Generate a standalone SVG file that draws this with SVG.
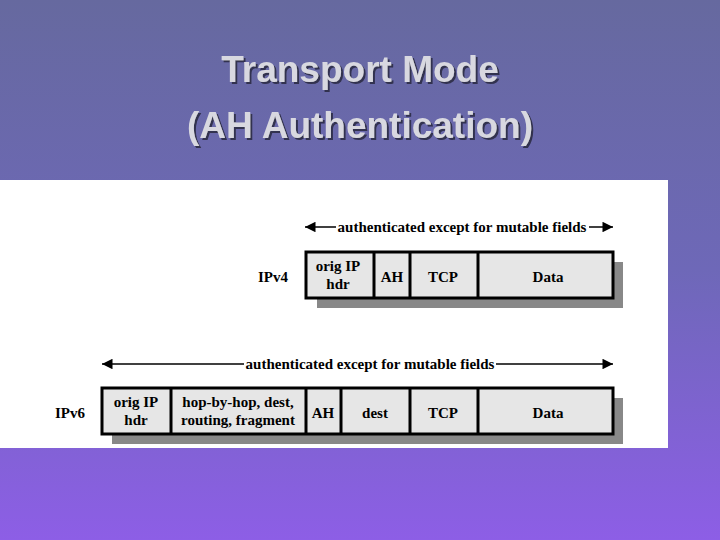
<svg xmlns="http://www.w3.org/2000/svg" width="720" height="540" viewBox="0 0 720 540">
<defs>
<linearGradient id="bg" x1="0" y1="0" x2="0" y2="1">
<stop offset="0" stop-color="#66699f"/><stop offset="0.5" stop-color="#6e68b8"/><stop offset="1" stop-color="#8d5ee6"/>
</linearGradient>
<filter id="ds" x="-5%" y="-20%" width="110%" height="140%"><feDropShadow dx="2" dy="2" stdDeviation="0.5" flood-color="#303050"/></filter>
<marker id="ah" viewBox="0 0 10 10" refX="10" refY="5" markerWidth="8" markerHeight="7" orient="auto-start-reverse"><path d="M0,0L10,5L0,10z" fill="#000"/></marker>
</defs>
<style>
.t{font-family:"Liberation Sans",Arial,sans-serif;font-size:37px;font-weight:bold;fill:#d8d8e0;text-anchor:middle;filter:url(#ds)}
.l{font-family:"Liberation Serif","Times New Roman",serif;font-size:15px;font-weight:bold;fill:#000;text-anchor:middle}
.box{fill:#e6e6e6;stroke:#000;stroke-width:3}
.sh{fill:#888}
.ln{stroke:#000;stroke-width:1.5}
.ls{marker-start:url(#ah)}
.le{marker-end:url(#ah)}
.dv{stroke:#000;stroke-width:3}
</style>
<rect width="720" height="540" fill="url(#bg)"/>
<g id="title">
<text class="t" x="360" y="82">Transport Mode</text>
<text class="t" x="360" y="138">(AH Authentication)</text>
</g>
<rect x="0" y="180" width="668" height="268" fill="#fff"/>
<g id="connectors">
<line class="ln ls" x1="305" y1="227" x2="336" y2="227"/>
<line class="ln le" x1="589" y1="227" x2="613" y2="227"/>
<line class="ln ls" x1="102" y1="364" x2="244" y2="364"/>
<line class="ln le" x1="496" y1="364" x2="613" y2="364"/>
</g>
<text class="l" x="462" y="232">authenticated except for mutable fields</text>
<text class="l" x="370" y="369">authenticated except for mutable fields</text>
<g id="ipv4">
<text class="l" x="273" y="282">IPv4</text>
<rect class="sh" x="317" y="262" width="306" height="46"/>
<rect class="box" x="306" y="252" width="307" height="46"/>
<line class="dv" x1="374" y1="252" x2="374" y2="298"/>
<line class="dv" x1="410" y1="252" x2="410" y2="298"/>
<line class="dv" x1="478" y1="252" x2="478" y2="298"/>
<text class="l" x="338" y="271">orig IP</text>
<text class="l" x="338" y="289">hdr</text>
<text class="l" x="392" y="282">AH</text>
<text class="l" x="443" y="282">TCP</text>
<text class="l" x="548" y="282">Data</text>
</g>
<g id="ipv6">
<text class="l" x="70" y="418">IPv6</text>
<rect class="sh" x="112" y="398" width="511" height="46"/>
<rect class="box" x="102" y="388" width="511" height="46"/>
<line class="dv" x1="171" y1="388" x2="171" y2="434"/>
<line class="dv" x1="306" y1="388" x2="306" y2="434"/>
<line class="dv" x1="341" y1="388" x2="341" y2="434"/>
<line class="dv" x1="410" y1="388" x2="410" y2="434"/>
<line class="dv" x1="478" y1="388" x2="478" y2="434"/>
<text class="l" x="136" y="407">orig IP</text>
<text class="l" x="136" y="425">hdr</text>
<text class="l" x="238" y="407">hop-by-hop, dest,</text>
<text class="l" x="238" y="425">routing, fragment</text>
<text class="l" x="323" y="418">AH</text>
<text class="l" x="375" y="418">dest</text>
<text class="l" x="443" y="418">TCP</text>
<text class="l" x="548" y="418">Data</text>
</g>
</svg>
